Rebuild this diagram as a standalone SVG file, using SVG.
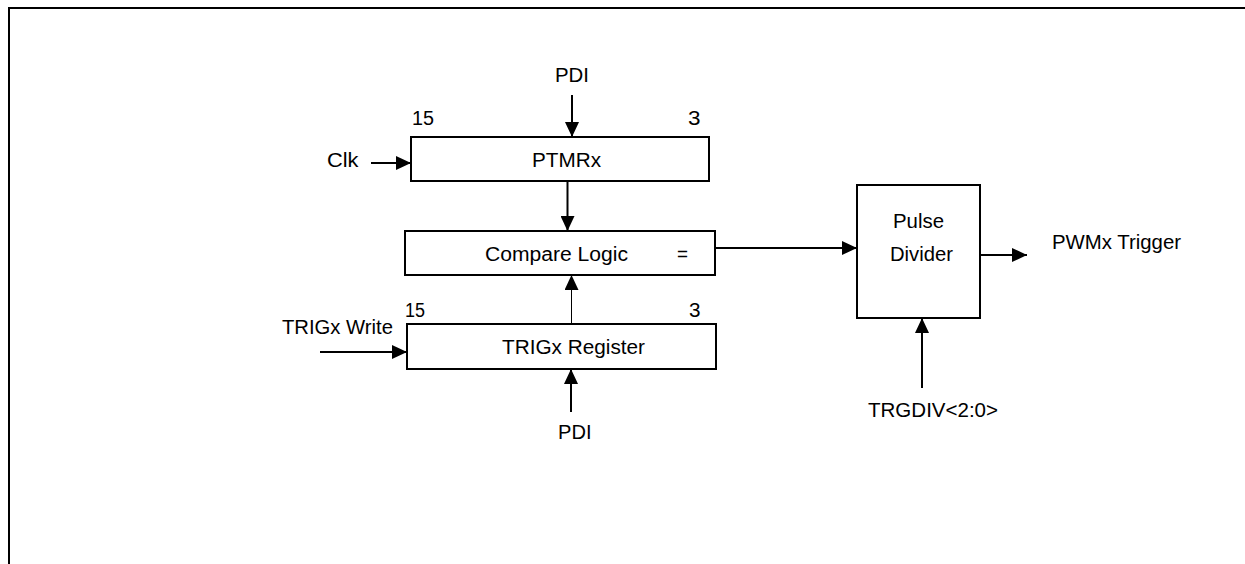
<svg xmlns="http://www.w3.org/2000/svg" width="1245" height="564" viewBox="0 0 1245 564">
<style>
.box{fill:#fff;stroke:#000;stroke-width:2}
.t{font-family:"Liberation Sans",Arial,sans-serif;font-size:20px;fill:#000}
.c{stroke:#000;stroke-width:2;fill:none;marker-end:url(#arr)}
.thin{stroke-width:1}
.frame{stroke:#000;stroke-width:2;fill:none}
</style>
<defs>
<marker id="arr" viewBox="0 0 15 14" refX="15" refY="7" markerWidth="15" markerHeight="14" markerUnits="userSpaceOnUse" orient="auto">
<path d="M0,0 L15,7 L0,14 z" fill="#000"/>
</marker>
</defs>
<rect width="1245" height="564" fill="#fff"/>
<path class="frame" d="M9,564 L9,8 L1245,8"/>

<g id="ptmrx">
<rect class="box" x="411" y="137" width="298" height="44"/>
<text class="t" x="532" y="167" textLength="69" lengthAdjust="spacingAndGlyphs">PTMRx</text>
<text class="t" x="412" y="125" textLength="22" lengthAdjust="spacingAndGlyphs">15</text>
<text class="t" x="688" y="125" textLength="12.5" lengthAdjust="spacingAndGlyphs">3</text>
</g>

<g id="compare">
<rect class="box" x="405" y="231" width="310" height="44"/>
<text class="t" x="485" y="261" textLength="143" lengthAdjust="spacingAndGlyphs">Compare Logic</text>
<text class="t" x="677" y="261" textLength="11" lengthAdjust="spacingAndGlyphs">=</text>
</g>

<g id="trigx">
<rect class="box" x="407" y="324" width="309" height="45"/>
<text class="t" x="502" y="354" textLength="143" lengthAdjust="spacingAndGlyphs">TRIGx Register</text>
<text class="t" x="405" y="317" textLength="20" lengthAdjust="spacingAndGlyphs">15</text>
<text class="t" x="689" y="317" textLength="11.5" lengthAdjust="spacingAndGlyphs">3</text>
</g>

<g id="pulse">
<rect class="box" x="857" y="185" width="123" height="133"/>
<text class="t" x="893" y="228" textLength="51" lengthAdjust="spacingAndGlyphs">Pulse</text>
<text class="t" x="890" y="261" textLength="63" lengthAdjust="spacingAndGlyphs">Divider</text>
</g>

<g id="labels">
<text class="t" x="555" y="82" textLength="34" lengthAdjust="spacingAndGlyphs">PDI</text>
<text class="t" x="327" y="167" textLength="31.5" lengthAdjust="spacingAndGlyphs">Clk</text>
<text class="t" x="282" y="334" textLength="111" lengthAdjust="spacingAndGlyphs">TRIGx Write</text>
<text class="t" x="558" y="439" textLength="33.5" lengthAdjust="spacingAndGlyphs">PDI</text>
<text class="t" x="1052" y="249" textLength="129" lengthAdjust="spacingAndGlyphs">PWMx Trigger</text>
<text class="t" x="868" y="417" textLength="130" lengthAdjust="spacingAndGlyphs">TRGDIV&lt;2:0&gt;</text>
</g>

<g id="connectors">
<line class="c" x1="572" y1="95" x2="572" y2="137"/>
<line class="c" x1="371" y1="163" x2="411" y2="163"/>
<line class="c" x1="567.5" y1="181" x2="567.5" y2="231"/>
<line class="c thin" x1="571.5" y1="324" x2="571.5" y2="275"/>
<line class="c" x1="320" y1="352" x2="407" y2="352"/>
<line class="c" x1="571" y1="412" x2="571" y2="369"/>
<line class="c" x1="715" y1="248" x2="857" y2="248"/>
<line class="c" x1="980" y1="255" x2="1027" y2="255"/>
<line class="c" x1="922" y1="388" x2="922" y2="318"/>
</g>
</svg>
